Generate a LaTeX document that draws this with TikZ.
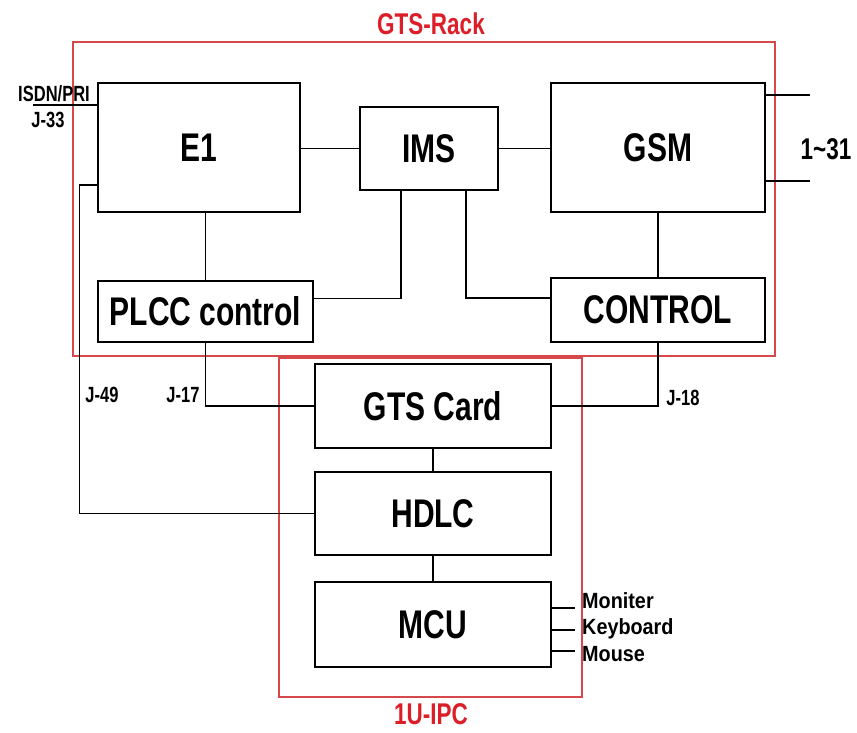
\documentclass[tikz,border=0pt]{standalone}
\usepackage{fontspec}
\setmainfont{Liberation Sans}[FakeStretch=0.75]
\newfontfamily\widefont{Liberation Sans}[FakeStretch=0.9]
\usepackage{xcolor}
\usetikzlibrary{positioning, calc}
\definecolor{rackred}{RGB}{214,72,76}
\definecolor{titlered}{RGB}{220,30,40}

\begin{document}
\begin{tikzpicture}[
    x=1pt, y=1pt,
    block/.style={draw, line width=1.5pt, inner sep=0pt, font=\fontsize{40}{40}\selectfont\bfseries},
    frame/.style={draw=rackred, line width=1.5pt},
    wire/.style={line width=1.5pt},
    tag/.style={anchor=base, inner sep=0pt, font=\fontsize{22}{22}\selectfont\bfseries},
    devtag/.style={anchor=base west, inner sep=0pt, font=\widefont\fontsize{22}{22}\selectfont\bfseries},
    title/.style={anchor=base, inner sep=0pt, text=titlered, font=\fontsize{30}{30}\selectfont\bfseries}
]
    \useasboundingbox (0,0) rectangle (857,733);

    % Frames
    \draw[frame] (73,691) rectangle (775,377);
    \draw[frame] (279,375) rectangle (582,36);
    \node[title] (racktitle) at (431,698) {GTS-Rack};
    \node[title] (ipctitle) at (431,8) {1U-IPC};

    % GTS rack blocks
    \node[block, minimum width=202, minimum height=129] (E1) at (199,585.5) {E1};
    \node[block, minimum width=138, minimum height=83] (IMS) at (429,584.5) {IMS};
    \node[block, minimum width=214, minimum height=129] (GSM) at (658,585.5) {GSM};
    \node[block, minimum width=215, minimum height=61] (PLCC) at (205.5,421.5) {PLCC control};
    \node[block, minimum width=214, minimum height=64] (CONTROL) at (658,423) {CONTROL};

    % IPC blocks
    \node[block, minimum width=236, minimum height=84] (GTS) at (433,327) {GTS Card};
    \node[block, minimum width=236, minimum height=83] (HDLC) at (433,219.5) {HDLC};
    \node[block, minimum width=236, minimum height=85] (MCU) at (433,108.5) {MCU};

    % Links inside the rack
    \draw[wire] (E1.east |- IMS) -- (IMS.west);
    \draw[wire] (IMS.east) -- (GSM.west |- IMS);
    \draw[wire] (E1.south -| PLCC) -- (PLCC.north);
    \draw[wire] (GSM) -- (CONTROL);
    \draw[wire] ([yshift=13]PLCC.east) -| ([xshift=-28]IMS.south);
    \draw[wire] ([xshift=37]IMS.south) |- ([yshift=12]CONTROL.west);

    % Links to the IPC
    \draw[wire] (PLCC.south) |- (GTS.west);
    \draw[wire] (CONTROL.south) |- (GTS.east);
    \draw[wire] (GTS) -- (HDLC);
    \draw[wire] (HDLC) -- (MCU);
    \draw[wire] ([yshift=-37.5]E1.west) -- ++(-18,0) |- (HDLC.west);

    % Outside lines
    \coordinate (isdn) at (33,628);
    \draw[wire] (isdn) -- (isdn -| E1.west);
    \coordinate (trunkA) at (810,638);
    \coordinate (trunkB) at (810,552);
    \draw[wire] (trunkA -| GSM.east) -- (trunkA);
    \draw[wire] (trunkB -| GSM.east) -- (trunkB);
    \coordinate (mon) at (575,125);
    \coordinate (kbd) at (575,103);
    \coordinate (mouse) at (575,82);
    \draw[wire] (mon -| MCU.east) -- (mon);
    \draw[wire] (kbd -| MCU.east) -- (kbd);
    \draw[wire] (mouse -| MCU.east) -- (mouse);

    % Labels
    \node[tag] (isdnlbl) at (54,631) {ISDN/PRI};
    \node[tag] (j33) at (48,605) {J-33};
    \node[tag] (j49) at (102,330) {J-49};
    \node[tag] (j17) at (183,330) {J-17};
    \node[tag] (j18) at (683,327) {J-18};
    \node[tag, font=\fontsize{30}{30}\selectfont\bfseries] (trunks) at (826,573) {1\textasciitilde31};
    \node[devtag] (monlbl) at (582,124) {Moniter};
    \node[devtag] (kbdlbl) at (582,98) {Keyboard};
    \node[devtag] (mouselbl) at (582,71) {Mouse};
\end{tikzpicture}
\end{document}
